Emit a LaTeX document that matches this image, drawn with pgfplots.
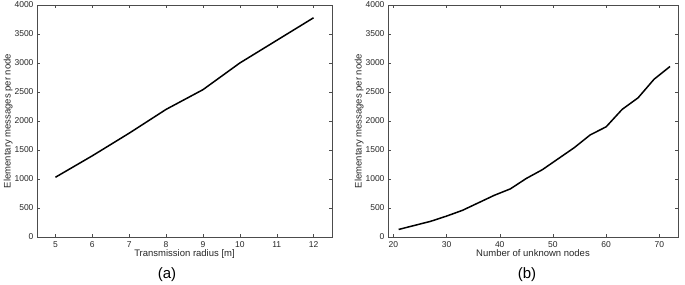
\documentclass[border=0pt]{standalone}
\usepackage{pgfplots}
\pgfplotsset{compat=1.18}
\usepackage{fontspec}
\setmainfont{Liberation Sans}
\begin{document}
\begin{tikzpicture}
\path[use as bounding box] (0pt,0pt) rectangle (685pt,-284pt);
\pgfplotsset{
  every axis/.append style={
    scale only axis, height=232pt,
    ymin=0, ymax=4000, ytick={0,500,...,4000},
    tick align=inside, major tick length=3pt,
    xtick pos=both, ytick pos=both,
    tick label style={font=\fontsize{8.5}{9}\selectfont, text=black!85},
    label style={font=\fontsize{9.5}{10}\selectfont, text=black!85},
    /pgf/number format/assume math mode=true,
    /pgf/number format/1000 sep={},
    scaled y ticks=false,
    xticklabel style={yshift=-1pt},
    xlabel style={yshift=5pt},
    ylabel style={yshift=-5pt},
    ylabel={Elementary messages per node},
    axis line style={line width=0.5pt, black!70},
    major tick style={black!70},
  }
}
\begin{axis}[at={(37pt,-5pt)}, anchor=north west, width=295pt,
  xmin=4.5, xmax=12.5, xtick={5,...,12},
  xlabel={Transmission radius [m]}]
\addplot[black, line width=1.5pt] coordinates {
(5,1030) (6,1400) (7,1790) (8,2200) (9,2540) (10,3000) (11,3390) (12,3780)};
\end{axis}
\begin{axis}[at={(388pt,-5pt)}, anchor=north west, width=290pt,
  xmin=19, xmax=73.5, xtick={20,30,...,70},
  xlabel={Number of unknown nodes}]
\addplot[black, line width=1.5pt] coordinates {
(21,130) (24,200) (27,270) (30,360) (33,460) (36,590) (39,720) (42,830)
(45,1010) (48,1160) (51,1350) (54,1540) (57,1760) (60,1900) (63,2200)
(66,2400) (69,2720) (72,2940)};
\end{axis}
\node[font=\fontsize{15}{16}\selectfont] at (167pt,-275pt) {(a)};
\node[font=\fontsize{15}{16}\selectfont] at (527pt,-275pt) {(b)};
\end{tikzpicture}
\end{document}
